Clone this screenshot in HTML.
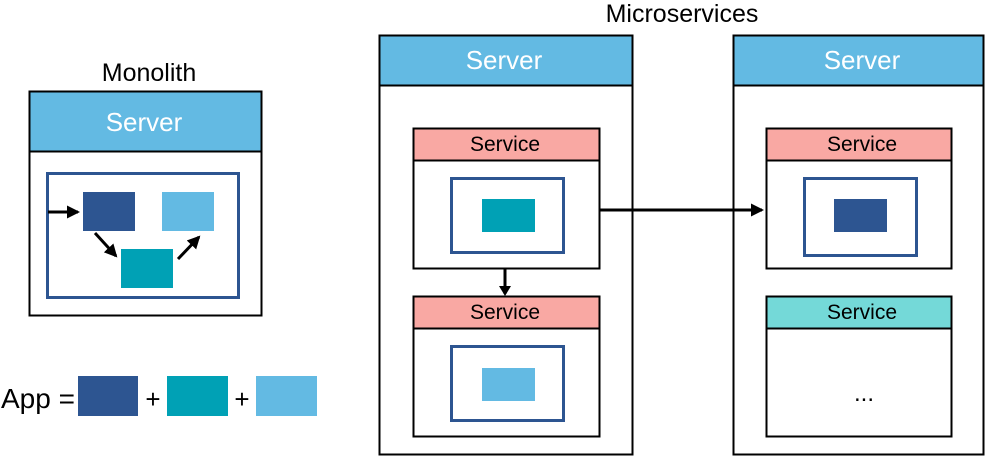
<!DOCTYPE html>
<html><head><meta charset="utf-8"><style>
html,body{margin:0;padding:0;background:#fff;width:986px;height:457px;overflow:hidden}
svg{display:block}
text{font-family:"Liberation Sans",Arial,sans-serif}
</style></head><body>
<svg width="986" height="457" viewBox="0 0 986 457" xmlns="http://www.w3.org/2000/svg">
<defs>
<marker id="a" markerWidth="10" markerHeight="12" refX="8" refY="6" orient="auto" markerUnits="userSpaceOnUse">
<path d="M0,0 L10,6 L0,12 Z" fill="#000"/></marker>
<marker id="b" markerWidth="13" markerHeight="13" refX="11" refY="6.5" orient="auto" markerUnits="userSpaceOnUse">
<path d="M0,0 L13,6.5 L0,13 Z" fill="#000"/></marker>
</defs>
<!-- Monolith -->
<text x="149" y="81" font-size="25" text-anchor="middle">Monolith</text>
<rect x="29.5" y="91.5" width="232" height="224" fill="#fff" stroke="#000" stroke-width="2"/>
<rect x="29.5" y="91.5" width="232" height="60" fill="#63bae3" stroke="#000" stroke-width="2"/>
<text x="144" y="131" font-size="26" fill="#fff" text-anchor="middle">Server</text>
<rect x="47.5" y="173.5" width="191" height="124" fill="none" stroke="#2d5591" stroke-width="3"/>
<rect x="83" y="192" width="52" height="39" fill="#2d5591"/>
<rect x="162" y="192" width="52" height="39" fill="#63bae3"/>
<rect x="121" y="249" width="52" height="39" fill="#00a1b5"/>
<line x1="48" y1="212" x2="78" y2="212" stroke="#000" stroke-width="3" marker-end="url(#b)"/>
<line x1="95" y1="233" x2="116" y2="256" stroke="#000" stroke-width="3" marker-end="url(#b)"/>
<line x1="178" y1="259" x2="199" y2="237" stroke="#000" stroke-width="3" marker-end="url(#b)"/>
<!-- legend -->
<text x="1" y="408" font-size="28">App =</text>
<rect x="78" y="376" width="60" height="40" fill="#2d5591"/>
<text x="153" y="408" font-size="26" text-anchor="middle">+</text>
<rect x="167" y="376" width="61" height="40" fill="#00a1b5"/>
<text x="242" y="408" font-size="26" text-anchor="middle">+</text>
<rect x="256" y="376" width="61" height="40" fill="#63bae3"/>
<!-- Microservices -->
<text x="682" y="22" font-size="25" text-anchor="middle">Microservices</text>
<rect x="379.5" y="35.5" width="253" height="419" fill="#fff" stroke="#000" stroke-width="2"/>
<rect x="379.5" y="35.5" width="253" height="50" fill="#63bae3" stroke="#000" stroke-width="2"/>
<text x="504" y="69" font-size="26" fill="#fff" text-anchor="middle">Server</text>
<rect x="733.5" y="35.5" width="250" height="419" fill="#fff" stroke="#000" stroke-width="2"/>
<rect x="733.5" y="35.5" width="250" height="50" fill="#63bae3" stroke="#000" stroke-width="2"/>
<text x="862" y="69" font-size="26" fill="#fff" text-anchor="middle">Server</text>
<!-- service 1 -->
<rect x="413.5" y="128.5" width="186" height="140" fill="#fff" stroke="#000" stroke-width="2"/>
<rect x="413.5" y="128.5" width="186" height="32" fill="#f9a8a3" stroke="#000" stroke-width="2"/>
<text x="505" y="151" font-size="21" text-anchor="middle">Service</text>
<rect x="451.5" y="178.5" width="112" height="74" fill="none" stroke="#2d5591" stroke-width="3"/>
<rect x="482" y="199" width="53" height="33" fill="#00a1b5"/>
<!-- service 2 -->
<rect x="413.5" y="296.5" width="186" height="140" fill="#fff" stroke="#000" stroke-width="2"/>
<rect x="413.5" y="296.5" width="186" height="32" fill="#f9a8a3" stroke="#000" stroke-width="2"/>
<text x="505" y="319" font-size="21" text-anchor="middle">Service</text>
<rect x="451.5" y="346.5" width="112" height="74" fill="none" stroke="#2d5591" stroke-width="3"/>
<rect x="482" y="368" width="53" height="33" fill="#63bae3"/>
<!-- service 3 -->
<rect x="766.5" y="128.5" width="185" height="140" fill="#fff" stroke="#000" stroke-width="2"/>
<rect x="766.5" y="128.5" width="185" height="32" fill="#f9a8a3" stroke="#000" stroke-width="2"/>
<text x="862" y="151" font-size="21" text-anchor="middle">Service</text>
<rect x="804.5" y="178.5" width="112" height="77" fill="none" stroke="#2d5591" stroke-width="3"/>
<rect x="834" y="199" width="53" height="33" fill="#2d5591"/>
<!-- service 4 -->
<rect x="766.5" y="296.5" width="185" height="140" fill="#fff" stroke="#000" stroke-width="2"/>
<rect x="766.5" y="296.5" width="185" height="32" fill="#74d9d8" stroke="#000" stroke-width="2"/>
<text x="862" y="319" font-size="21" text-anchor="middle">Service</text>
<text x="864" y="401" font-size="24" text-anchor="middle">...</text>
<!-- arrows -->
<line x1="505" y1="269" x2="505" y2="294" stroke="#000" stroke-width="3" marker-end="url(#a)"/>
<line x1="600" y1="210" x2="762" y2="210" stroke="#000" stroke-width="3" marker-end="url(#b)"/>
</svg>
</body></html>
